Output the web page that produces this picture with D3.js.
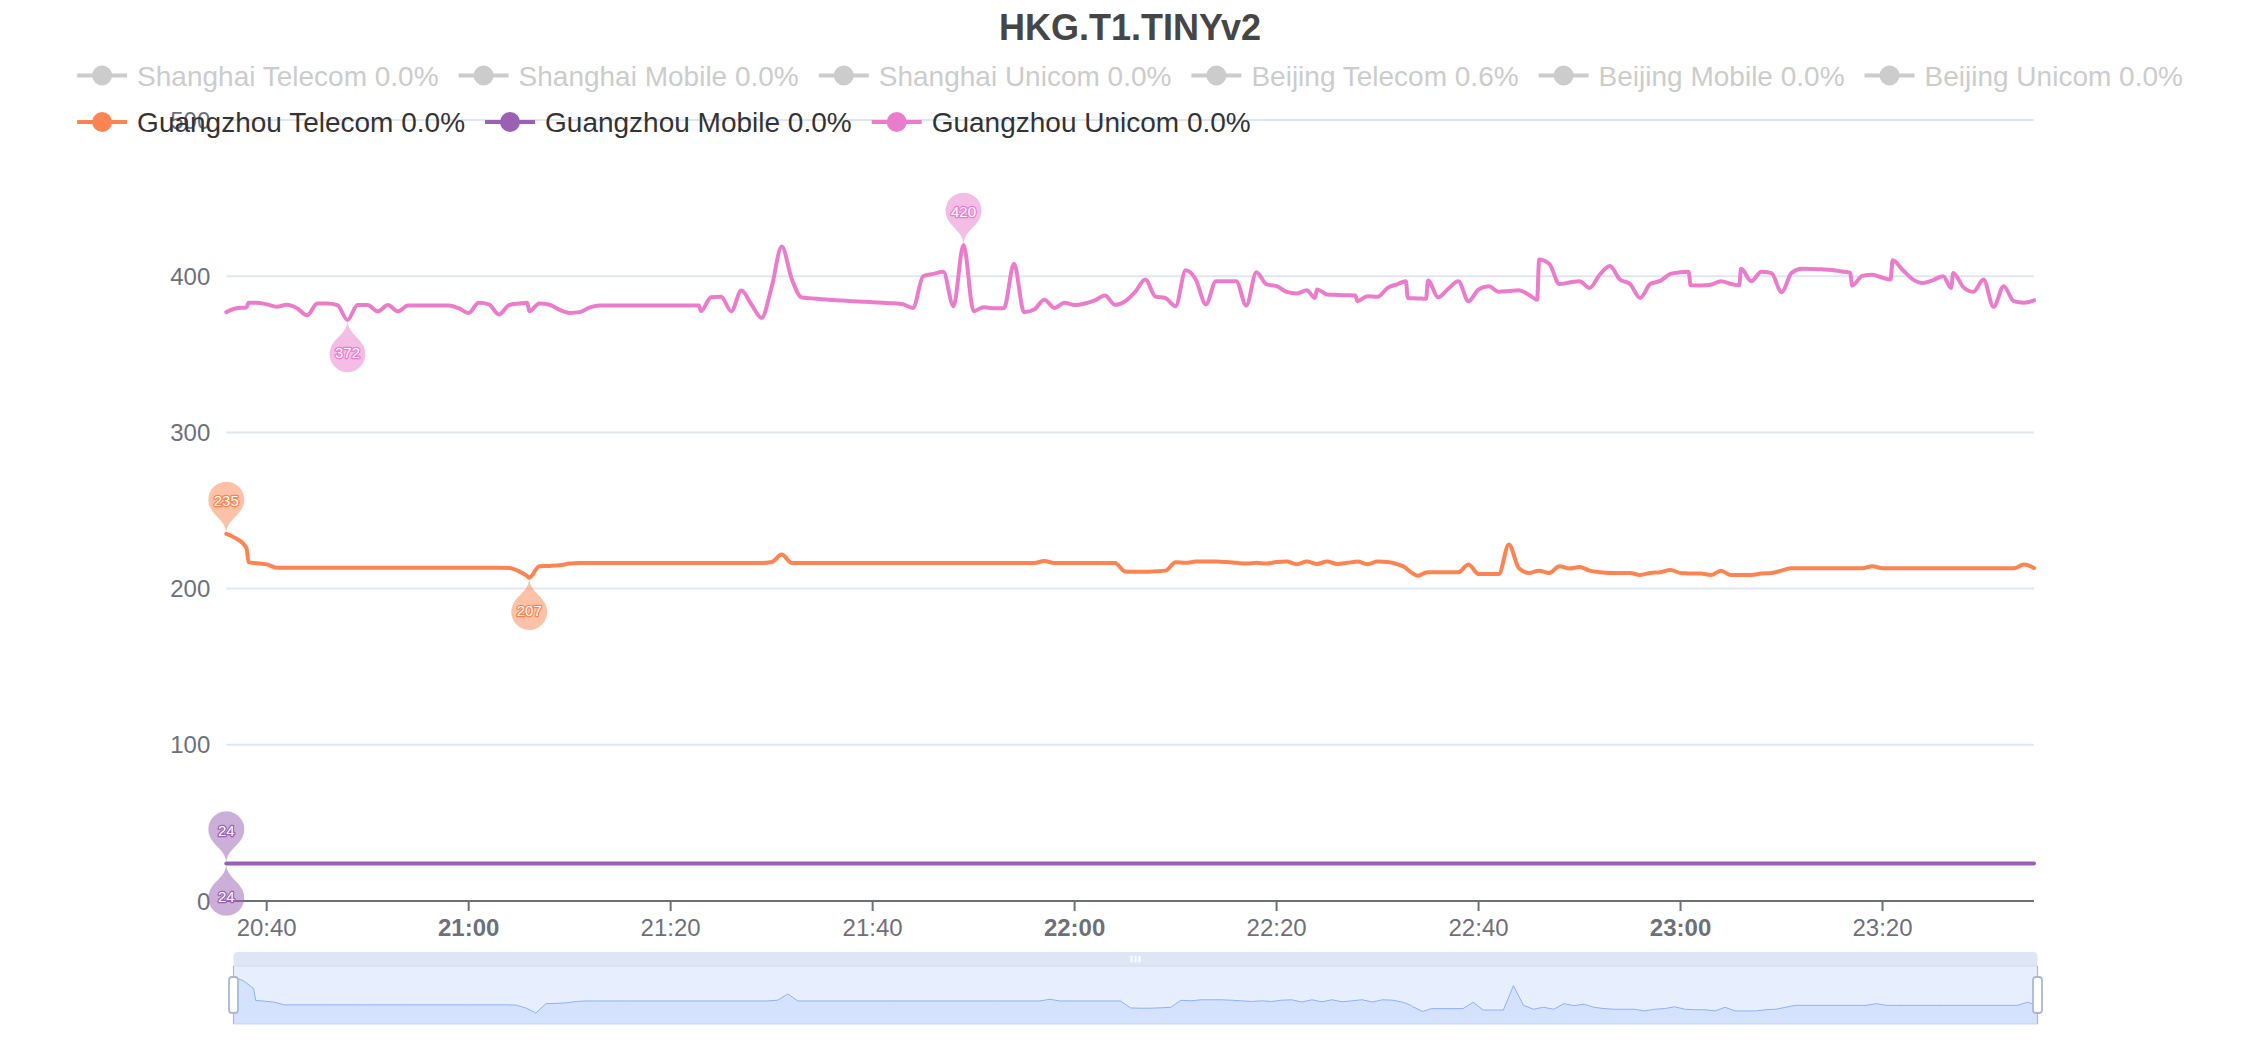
<!DOCTYPE html>
<html><head><meta charset="utf-8">
<script src="https://cdn.jsdelivr.net/npm/d3@7"></script>
<style>
html,body{margin:0;padding:0;background:#fff;}
svg{display:block;font-family:"Liberation Sans",Arial,Helvetica,sans-serif;}
</style>
</head><body>
<svg id="chart" width="2260" height="1040"></svg>
<script>
const titleText = "HKG.T1.TINYv2";
const legendNames = ["Shanghai Telecom","Shanghai Mobile","Shanghai Unicom","Beijing Telecom","Beijing Mobile","Beijing Unicom","Guangzhou Telecom","Guangzhou Mobile","Guangzhou Unicom"];
const legendLoss = ["0.0%","0.0%","0.0%","0.6%","0.0%","0.0%","0.0%","0.0%","0.0%"];
const legendActive = [false,false,false,false,false,false,true,true,true];
const seriesColors = ["#5470c6","#91cc75","#fac858","#ee6666","#73c0de","#3ba272","#fc8452","#9a60b4","#ea7ccc"];

const times = [
"20:36","20:37","20:38","20:38:12","20:39","20:40","20:41","20:42","20:43","20:44","20:45",
"20:46","20:47","20:48","20:49","20:50","20:51","20:52","20:53","20:54","20:55",
"20:56","20:57","20:58","20:59","21:00","21:01","21:02","21:03","21:04","21:05","21:05:48",
"21:06","21:07","21:08","21:09","21:10","21:11","21:12","21:13","21:14","21:15",
"21:16","21:17","21:18","21:19","21:20","21:21","21:22","21:22:48","21:23","21:24","21:25",
"21:26","21:27","21:28","21:29","21:30","21:31","21:32","21:33","21:34","21:35",
"21:36","21:37","21:38","21:39","21:40","21:41","21:42","21:43","21:44","21:45",
"21:46","21:47","21:48","21:49","21:50","21:51","21:52","21:53","21:54","21:55",
"21:56","21:57","21:58","21:59","22:00","22:01","22:02","22:03","22:04","22:05",
"22:06","22:07","22:08","22:09","22:10","22:11","22:12","22:13","22:14","22:15",
"22:16","22:17","22:18","22:19","22:20","22:21","22:22","22:23","22:23:48","22:24","22:25",
"22:26","22:27","22:27:48","22:28","22:29","22:30","22:31","22:32","22:32:48","22:33","22:34","22:34:48","22:35",
"22:36","22:37","22:38","22:39","22:40","22:41","22:42","22:43","22:44","22:45","22:45:48",
"22:46","22:47","22:48","22:49","22:50","22:51","22:52","22:53","22:54","22:55",
"22:56","22:57","22:58","22:59","23:00","23:00:48","23:01","23:02","23:03","23:04","23:05","23:05:48",
"23:06","23:07","23:08","23:09","23:10","23:11","23:12","23:13","23:14","23:15","23:16","23:16:48",
"23:17","23:18","23:19","23:20","23:20:48","23:21","23:22","23:23","23:24","23:25","23:26","23:26:48",
"23:27","23:28","23:29","23:30","23:31","23:32","23:33","23:34","23:35"
];

const gzTelecom = [
235,232,226,216.8,216.3,215.5,213.4,213.4,213.4,213.4,213.4,
213.4,213.4,213.4,213.4,213.4,213.4,213.4,213.4,213.4,213.4,
213.4,213.4,213.4,213.4,213.4,213.4,213.4,213.4,213.2,211,208,
207,214.3,214.5,214.9,216,216.4,216.4,216.4,216.4,216.4,
216.4,216.4,216.4,216.4,216.4,216.4,216.4,216.4,216.4,216.4,216.4,
216.4,216.4,216.4,216.4,217,221.8,216.4,216.4,216.4,216.4,
216.4,216.4,216.4,216.4,216.4,216.4,216.4,216.4,216.4,216.4,
216.4,216.4,216.4,216.4,216.4,216.4,216.4,216.4,216.4,216.4,
216.4,217.7,216.4,216.4,216.4,216.4,216.4,216.4,216.4,211,
210.8,210.8,211.1,211.5,216.9,216.5,217.3,217.3,217.3,217,
216.5,216,216.5,216,217,217.3,215.6,217.3,216,215.8,217.3,
215.8,216.5,217.2,217.3,215.6,217.3,217,215.5,213.2,212,208.3,210.3,210.5,
210.5,210.5,210.5,215.4,209.4,209.4,209.4,228.2,213,210,211.3,
211.5,210,214.3,212.8,213.9,211.5,210.5,210,210,210,
208.7,210,210.5,211.9,210,209.7,209.6,209.6,208.7,211.5,208.7,208.7,
208.7,208.7,209.6,210,211.5,213,213,213,213,213,213,213,
213,213,214.3,213,213,213,213,213,213,213,213,213,
213,213,213,213,213,213,213,215.4,213.2
];

const gzMobile = [
24,24,24,24,24,24,24,24,24,24,24,
24,24,24,24,24,24,24,24,24,24,
24,24,24,24,24,24,24,24,24,24,24,
24,24,24,24,24,24,24,24,24,24,
24,24,24,24,24,24,24,24,24,24,24,
24,24,24,24,24,24,24,24,24,24,
24,24,24,24,24,24,24,24,24,24,
24,24,24,24,24,24,24,24,24,24,
24,24,24,24,24,24,24,24,24,24,
24,24,24,24,24,24,24,24,24,24,
24,24,24,24,24,24,24,24,24,24,24,
24,24,24,24,24,24,24,24,24,24,24,24,24,
24,24,24,24,24,24,24,24,24,24,24,
24,24,24,24,24,24,24,24,24,24,
24,24,24,24,24,24,24,24,24,24,24,24,
24,24,24,24,24,24,24,24,24,24,24,24,
24,24,24,24,24,24,24,24,24,24,24,24,
24,24,24,24,24,24,24,24,24
];

const gzUnicom = [
377,379.5,380,383,383,382,380.5,381.7,379.5,375,382.5,
382.5,381.5,372,381.5,381.5,377.5,381.5,377.5,381.2,381.2,
381.2,381.2,381.2,379.5,376.5,383,382,375.5,381.5,382.5,383,
377.6,382.5,381.7,378.5,376.5,377,380,381.2,381.2,381.2,
381.2,381.2,381.2,381.2,381.2,381.2,381.2,381.2,377.6,386.5,386.8,
377.6,390.8,381.9,373.3,393,419,398,386.3,385.8,385.3,
384.8,384.4,384,383.7,383.4,383,382.7,382,379.7,400,
401.5,402.8,380.8,420,377.6,380.2,379.5,379.5,408,377,
378.7,385,379.7,383,381.5,382.5,384.5,387.6,381.7,384,
390,397.9,387,386,380.8,403.8,397.9,381.9,396.8,396.8,
396.8,381.2,402.6,394.7,393.6,390,389,391,386.1,391.5,388.3,
388,387.8,387.6,384,387.2,386.8,392.5,395,396.8,386.1,385.8,385.5,397.2,
386.5,392,396.8,384,391.5,393.6,390,390.5,391,388,385,
410.7,408,395,396,396.8,392.5,401,406.5,397.9,395,
386.1,395,397,401.5,402.5,402.8,394.2,394,394.5,396.8,395,394.2,
404.7,396.8,402.8,402,389.8,402.1,404.7,404.6,404.4,404,403,402.1,
394,400.2,401,399,397.9,410.2,404,398,395.7,397.5,400,392.5,
402.1,393,390,397.9,380.4,393.6,384,383,384.5
];

const visibleSeries = [
  {name: "Guangzhou Telecom", values: gzTelecom, color: "#fc8452"},
  {name: "Guangzhou Mobile", values: gzMobile, color: "#9a60b4"},
  {name: "Guangzhou Unicom", values: gzUnicom, color: "#ea7ccc"}
];
const yTicks = [0,100,200,300,400,500];
const xTickLabels = ["20:40","21:00","21:20","21:40","22:00","22:20","22:40","23:00","23:20"];

// ---------- drawing ----------
const svg = d3.select("#chart");
const W = 2260, H = 1040;
const plot = {left: 226.3, right: 2034, top: 120, bottom: 901};
const parseT = s => d3.timeParse("%H:%M:%S")(s.length === 5 ? s + ":00" : s);
const tDates = times.map(parseT);

const x = d3.scaleTime().domain([tDates[0], tDates[tDates.length-1]]).range([plot.left, plot.right]);
const y = d3.scaleLinear().domain([0, 500]).range([plot.bottom, plot.top]);

const axisColor = "#6E7079";
const gridColor = "#E0E6F1";

// grid lines
svg.append("g").selectAll("line").data(yTicks.filter(v => v > 0)).join("line")
  .attr("x1", plot.left).attr("x2", plot.right)
  .attr("y1", d => y(d)).attr("y2", d => y(d))
  .attr("stroke", gridColor).attr("stroke-width", 2);

// y labels
svg.append("g").selectAll("text").data(yTicks).join("text")
  .attr("x", plot.left - 16).attr("y", d => y(d) + 8.5)
  .attr("text-anchor", "end").attr("font-size", 24).attr("fill", axisColor)
  .text(d => d);

// x axis
svg.append("line").attr("x1", plot.left).attr("x2", plot.right)
  .attr("y1", plot.bottom).attr("y2", plot.bottom)
  .attr("stroke", axisColor).attr("stroke-width", 2);
const xg = svg.append("g");
xTickLabels.forEach(lbl => {
  const xx = x(parseT(lbl));
  xg.append("line").attr("x1", xx).attr("x2", xx).attr("y1", plot.bottom).attr("y2", plot.bottom + 10)
    .attr("stroke", axisColor).attr("stroke-width", 2);
  xg.append("text").attr("x", xx).attr("y", 935.5).attr("text-anchor", "middle")
    .attr("font-size", 24).attr("fill", axisColor)
    .attr("font-weight", lbl.endsWith(":00") ? "bold" : "normal")
    .text(lbl);
});

// series lines
const lineGen = d3.line().x(d => x(d.t)).y(d => y(d.v)).curve(d3.curveMonotoneX);
visibleSeries.forEach(s => {
  const pts = s.values.map((v, i) => ({t: tDates[i], v}));
  svg.append("path").attr("d", lineGen(pts)).attr("fill", "none")
    .attr("stroke", s.color).attr("stroke-width", 4)
    .attr("stroke-linejoin", "round").attr("stroke-linecap", "round");
});

// ECharts-style pin marker
function pinPath(px, py, width, height) {
  const w = width / 5 * 3;
  const h = Math.max(w, height);
  const r = w / 2;
  const dy = r * r / (h - r);
  const cy = py - h + r + dy;
  const angle = Math.asin(dy / r);
  const dx = Math.cos(angle) * r;
  const tanX = Math.sin(angle), tanY = Math.cos(angle);
  const cpLen = r * 0.6, cpLen2 = r * 0.7;
  return `M${px - dx},${cy + dy}` +
    `A${r},${r} 0 1 1 ${px + dx},${cy + dy}` +
    `C${px + dx - tanX * cpLen},${cy + dy + tanY * cpLen} ${px},${py - cpLen2} ${px},${py}` +
    `C${px},${py - cpLen2} ${px - dx + tanX * cpLen},${cy + dy + tanY * cpLen} ${px - dx},${cy + dy}Z`;
}
const pins = svg.append("g");
visibleSeries.forEach(s => {
  const iMax = d3.maxIndex(s.values), iMin = d3.minIndex(s.values);
  [[iMax, false], [iMin, true]].forEach(([i, flip]) => {
    const px = x(tDates[i]), py = y(s.values[i]);
    const g = pins.append("g");
    g.append("path").attr("d", pinPath(px, py, 60, 60))
      .attr("fill", s.color).attr("fill-opacity", 0.5)
      .attr("transform", flip ? `rotate(180,${px},${py})` : null);
    g.append("text").attr("x", px).attr("y", flip ? py + 33 : py - 33)
      .attr("dy", "0.35em").attr("text-anchor", "middle").attr("font-size", 15)
      .attr("fill", "#fff").attr("stroke", s.color).attr("stroke-width", 2.5)
      .attr("paint-order", "stroke").attr("stroke-linejoin", "round")
      .text(Math.round(s.values[i]));
  });
});

// legend
const legend = svg.append("g");
const items = legendNames.map((n, i) => ({label: n + " " + legendLoss[i], color: legendActive[i] ? seriesColors[i] : "#ccc", textColor: legendActive[i] ? "#333" : "#ccc"}));
const meas = svg.append("text").attr("font-size", 28);
items.forEach(it => { meas.text(it.label); it.tw = meas.node().getComputedTextLength(); it.w = 60 + it.tw; });
meas.remove();
const maxRowW = 2200, gap = 20;
const rows = [[]]; let rw = 0;
items.forEach(it => {
  const add = (rows[rows.length-1].length ? gap : 0) + it.w;
  if (rw + add > maxRowW && rows[rows.length-1].length) { rows.push([it]); rw = it.w; }
  else { rows[rows.length-1].push(it); rw += add; }
});
const rowWidths = rows.map(r => d3.sum(r, d => d.w) + gap * (r.length - 1));
const startX = (W - d3.max(rowWidths)) / 2;
const rowY = [75.5, 122];
rows.forEach((r, ri) => {
  let cx = startX;
  r.forEach(it => {
    const cyy = rowY[ri];
    legend.append("line").attr("x1", cx).attr("x2", cx + 50).attr("y1", cyy).attr("y2", cyy)
      .attr("stroke", it.color).attr("stroke-width", 4);
    legend.append("circle").attr("cx", cx + 25).attr("cy", cyy).attr("r", 10).attr("fill", it.color);
    legend.append("text").attr("x", cx + 60).attr("y", cyy + 10).attr("font-size", 28)
      .attr("fill", it.textColor).text(it.label);
    cx += it.w + gap;
  });
});

// title
svg.append("text").attr("x", W / 2).attr("y", 39.5).attr("text-anchor", "middle")
  .attr("font-size", 36).attr("font-weight", "bold").attr("fill", "#464646").text(titleText);

// data zoom slider
const sl = {left: 233.5, right: 2037.5, top: 966, bottom: 1024, handleTop: 952};
const sg = svg.append("g");
sg.append("rect").attr("x", sl.left).attr("y", sl.top).attr("width", sl.right - sl.left).attr("height", sl.bottom - sl.top)
  .attr("fill", "rgba(135,175,255,0.2)").attr("stroke", "#d2dbee").attr("stroke-width", 1);
const ext = d3.extent(gzTelecom);
const off = (ext[1] - ext[0]) * 0.3;
const sx = d3.scaleTime().domain(x.domain()).range([sl.left, sl.right]);
const sy = d3.scaleLinear().domain([ext[0] - off, ext[1] + off]).range([sl.bottom, sl.top]);
const shadowPts = gzTelecom.map((v, i) => [sx(tDates[i]), sy(v)]);
sg.append("path").attr("d", d3.area().x(d => d[0]).y0(sl.bottom).y1(d => d[1])(shadowPts))
  .attr("fill", "#8fb0f7").attr("fill-opacity", 0.2);
sg.append("path").attr("d", d3.line()(shadowPts)).attr("fill", "none")
  .attr("stroke", "#8fb0f7").attr("stroke-width", 1);
// move handle
const rr = 4;
sg.append("path").attr("d",
  `M${sl.left},${sl.top}V${sl.handleTop + rr}Q${sl.left},${sl.handleTop} ${sl.left + rr},${sl.handleTop}` +
  `H${sl.right - rr}Q${sl.right},${sl.handleTop} ${sl.right},${sl.handleTop + rr}V${sl.top}Z`)
  .attr("fill", "#D2DBEE").attr("fill-opacity", 0.7);
const gripX = (sl.left + sl.right) / 2;
[-4, 0, 4].forEach(o => {
  sg.append("rect").attr("x", gripX + o - 1).attr("y", sl.handleTop + 3.5).attr("width", 2).attr("height", 7)
    .attr("rx", 1).attr("fill", "#fff");
});
// handles
[sl.left, sl.right].forEach(hx => {
  sg.append("line").attr("x1", hx).attr("x2", hx).attr("y1", sl.top).attr("y2", sl.bottom)
    .attr("stroke", "#ACB8D1").attr("stroke-width", 1.2);
  sg.append("rect").attr("x", hx - 4.5).attr("y", 977).attr("width", 9).attr("height", 36).attr("rx", 3)
    .attr("fill", "#fff").attr("stroke", "#ACB8D1").attr("stroke-width", 1.8);
});
</script>
</body></html>
